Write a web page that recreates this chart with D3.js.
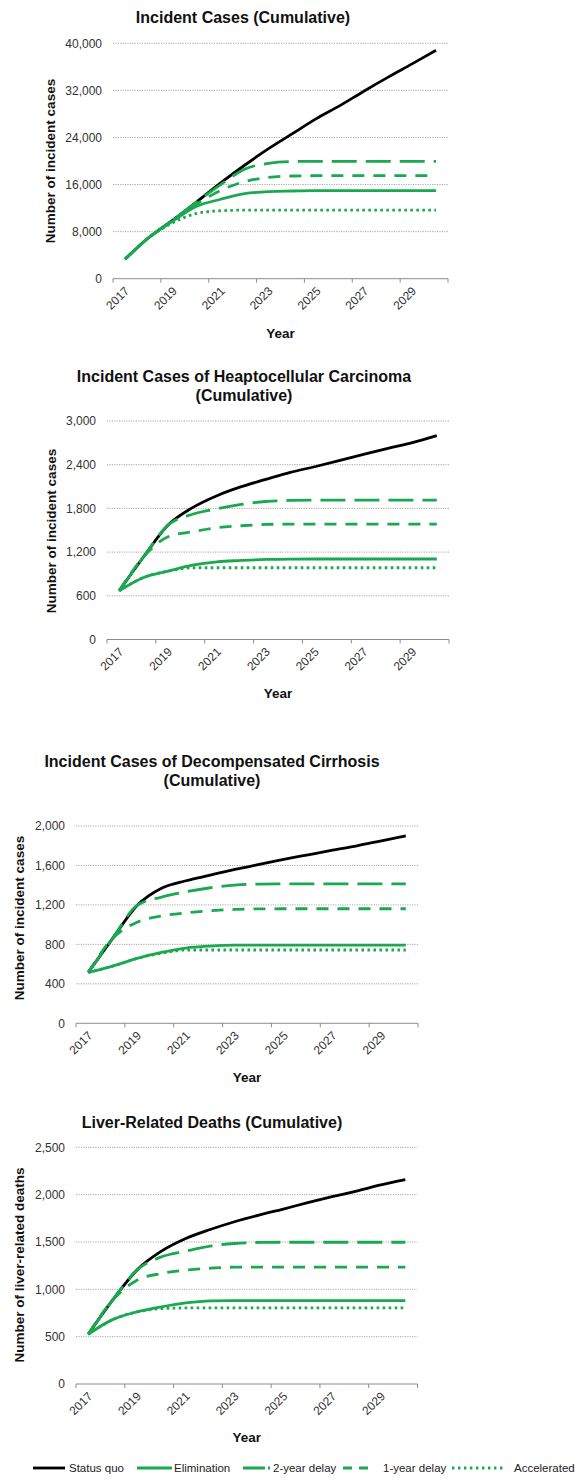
<!DOCTYPE html>
<html><head><meta charset="utf-8">
<script src="https://cdn.jsdelivr.net/npm/d3@7"></script>
<style>
body{margin:0;background:#fff}
svg{display:block}
text{font-family:"Liberation Sans",Arial,Helvetica,sans-serif}
</style>
</head><body>
<svg id="chart" width="578" height="1483"></svg>
<script>
// ---------------- DATA ----------------
const years = [2017,2018,2019,2020,2021,2022,2023,2024,2025,2026,2027,2028,2029,2030];
const tickYears = [2017,2019,2021,2023,2025,2027,2029];
const seriesNames = ["Status quo","Elimination","2-year delay","1-year delay","Accelerated"];

// Panel 1: Incident cases
const incidentTicks = [0,8000,16000,24000,32000,40000];
const incidentStatusQuo  = [3300,7000,9950,13060,16280,19280,22100,24650,27200,29450,31900,34250,36500,38800];
const incidentElimination= [3300,7000,9800,12300,13500,14450,14800,14900,14950,14950,14950,14950,14950,14950];
const incidentTwoYear    = [3300,7000,9950,13060,16000,18600,19600,19900,19950,19950,19950,19950,19950,19950];
const incidentOneYear    = [3300,7000,9950,12700,15000,16500,17200,17450,17500,17500,17500,17500,17500,17500];
const incidentAccelerated= [3300,7000,9500,11100,11550,11650,11650,11650,11650,11650,11650,11650,11650,11650];

// Panel 2: HCC
const hccTicks = [0,600,1200,1800,2400,3000];
const hccStatusQuo  = [670,1136,1571,1810,1974,2098,2198,2295,2372,2455,2542,2624,2702,2798];
const hccElimination= [670,852,939,1021,1067,1085,1099,1104,1105,1105,1105,1105,1105,1105];
const hccTwoYear    = [670,1136,1571,1720,1795,1855,1895,1910,1914,1914,1914,1914,1914,1914];
const hccOneYear    = [670,1136,1410,1480,1535,1562,1580,1585,1585,1585,1585,1585,1585,1585];
const hccAccelerated= [670,852,939,985,985,985,985,985,985,985,985,985,985,985];

// Panel 3: Decompensated cirrhosis
const dccTicks = [0,400,800,1200,1600,2000];
const dccStatusQuo  = [516,861,1195,1370,1445,1502,1560,1610,1661,1708,1755,1799,1850,1900];
const dccElimination= [516,580,658,719,763,783,793,793,793,793,793,793,793,793];
const dccTwoYear    = [516,861,1195,1280,1333,1374,1401,1411,1413,1414,1414,1414,1414,1414];
const dccOneYear    = [516,861,1025,1087,1120,1141,1154,1160,1161,1161,1161,1161,1161,1161];
const dccAccelerated= [516,580,658,710,743,743,743,743,743,743,743,743,743,743];

// Panel 4: Liver-related deaths
const deathTicks = [0,500,1000,1500,2000,2500];
const deathStatusQuo  = [525,885,1205,1403,1537,1632,1714,1784,1848,1915,1978,2038,2102,2158];
const deathElimination= [525,680,761,814,856,877,881,881,881,881,881,881,881,881];
const deathTwoYear    = [525,885,1205,1343,1403,1456,1484,1495,1497,1497,1497,1497,1497,1497];
const deathOneYear    = [525,885,1096,1167,1202,1223,1234,1235,1235,1235,1235,1235,1235,1235];
const deathAccelerated= [525,680,761,796,803,803,803,803,803,803,803,803,803,803];

const panelTitles = [
  ["Incident Cases (Cumulative)"],
  ["Incident Cases of Heaptocellular Carcinoma","(Cumulative)"],
  ["Incident Cases of Decompensated Cirrhosis","(Cumulative)"],
  ["Liver-Related Deaths (Cumulative)"]
];
const yTitles = ["Number of incident cases","Number of incident cases","Number of incident cases","Number of liver-related deaths"];
const xTitle = "Year";

// ---------------- STYLE / LAYOUT ----------------
const GREEN = "#1aa850";
const seriesStyle = [
  {color:"#000", dash:null},
  {color:GREEN, dash:null},
  {color:GREEN, dash:"25,9"},
  {color:GREEN, dash:"12,9"},
  {color:GREEN, dash:"2.6,3.4"}
];
const layout = [
  {x0:113, x1:448, yTop:43.3,  yBot:278.7, titleX:243, titleY:[22.6],        ytX:50, ytY:161,  yearY:338},
  {x0:107, x1:449, yTop:421,   yBot:639.5, titleX:244, titleY:[382.3,400.6], ytX:51, ytY:531,  yearY:698},
  {x0:76,  x1:418, yTop:826,   yBot:1023.3,titleX:212, titleY:[766.6,785.6], ytX:19, ytY:918,  yearY:1082},
  {x0:76,  x1:417.5,yTop:1147.3,yBot:1384, titleX:212, titleY:[1127.6],      ytX:19, ytY:1265, yearY:1442}
];

const panels = [
  {ticks:incidentTicks, series:[incidentStatusQuo,incidentElimination,incidentTwoYear,incidentOneYear,incidentAccelerated]},
  {ticks:hccTicks,      series:[hccStatusQuo,hccElimination,hccTwoYear,hccOneYear,hccAccelerated]},
  {ticks:dccTicks,      series:[dccStatusQuo,dccElimination,dccTwoYear,dccOneYear,dccAccelerated]},
  {ticks:deathTicks,    series:[deathStatusQuo,deathElimination,deathTwoYear,deathOneYear,deathAccelerated]}
];

const svg = d3.select("#chart");
const fmt = d3.format(",");

panels.forEach((p, i) => {
  const L = layout[i];
  const g = svg.append("g");
  const x = d3.scaleBand().domain(years).range([L.x0, L.x1]).padding(0);
  const y = d3.scaleLinear().domain([0, d3.max(p.ticks)]).range([L.yBot, L.yTop]);

  // gridlines
  g.append("g").selectAll("line").data(p.ticks.filter(t => t > 0)).join("line")
    .attr("x1", L.x0).attr("x2", L.x1)
    .attr("y1", d => y(d)).attr("y2", d => y(d))
    .attr("stroke", "#a8a8a8").attr("stroke-width", 1).attr("stroke-dasharray", "1.2,1.2");

  // y tick labels via axis
  const ya = g.append("g").attr("transform", `translate(${L.x0},0)`)
    .call(d3.axisLeft(y).tickValues(p.ticks).tickFormat(fmt).tickSize(0).tickPadding(11));
  ya.select(".domain").remove();
  ya.selectAll("text").attr("font-size", 12).attr("fill", "#333")
    .style("font-family", '"Liberation Sans",Arial,sans-serif');

  // x axis
  const xa = g.append("g").attr("transform", `translate(0,${L.yBot})`)
    .call(d3.axisBottom(x).tickValues(tickYears).tickSize(0).tickPadding(0));
  xa.select(".domain").attr("stroke", "#8c8c8c").attr("d", `M${L.x0},0H${L.x1}`);
  xa.selectAll("text")
    .attr("font-size", 12).attr("fill", "#333")
    .style("font-family", '"Liberation Sans",Arial,sans-serif')
    .attr("text-anchor", "end")
    .attr("dy", "0.35em")
    .attr("transform", "translate(2,10) rotate(-45)");
  // tick marks at category boundaries
  const boundaries = tickYears.map(yr => x(yr)).concat([x(years[years.length-1]) + x.bandwidth()]);
  g.append("g").selectAll("line").data(boundaries).join("line")
    .attr("x1", d => d).attr("x2", d => d)
    .attr("y1", L.yBot).attr("y2", L.yBot + 4)
    .attr("stroke", "#8c8c8c").attr("stroke-width", 1);

  // lines
  const line = d3.line()
    .x((d, k) => x(years[k]) + x.bandwidth()/2)
    .y(d => y(d))
    .curve(d3.curveMonotoneX);
  p.series.forEach((s, k) => {
    const st = seriesStyle[k];
    g.append("path").datum(s)
      .attr("d", line).attr("fill", "none")
      .attr("stroke", st.color).attr("stroke-width", 2.8)
      .attr("stroke-dasharray", st.dash)
      .attr("stroke-linejoin", "round");
  });

  // titles
  panelTitles[i].forEach((t, j) => {
    g.append("text").attr("x", L.titleX).attr("y", L.titleY[j])
      .attr("text-anchor", "middle").attr("font-size", 16).attr("font-weight", "bold")
      .attr("fill", "#111").text(t);
  });
  g.append("text")
    .attr("transform", `translate(${L.ytX},${L.ytY}) rotate(-90)`)
    .attr("text-anchor", "middle").attr("dy", "0.35em")
    .attr("font-size", 13.5).attr("font-weight", "bold").attr("fill", "#111")
    .text(yTitles[i]);
  g.append("text").attr("x", (L.x0 + L.x1)/2).attr("y", L.yearY)
    .attr("text-anchor", "middle").attr("font-size", 13.5).attr("font-weight", "bold")
    .attr("fill", "#111").text(xTitle);
});

// legend
const legendY = 1468;
const legendLayout = [
  {s:33,  e:65,  t:69,  dash:null},
  {s:137, e:172, t:174, dash:null},
  {s:243, e:270, t:273, dash:"22,3"},
  {s:343, e:375, t:383, dash:"9,7"},
  {s:452, e:505, t:514, dash:"2.4,3.6"}
];
const lg = svg.append("g");
seriesNames.forEach((name, k) => {
  const Lg = legendLayout[k];
  lg.append("line").attr("x1", Lg.s).attr("x2", Lg.e).attr("y1", legendY).attr("y2", legendY)
    .attr("stroke", seriesStyle[k].color).attr("stroke-width", 2.8)
    .attr("stroke-dasharray", Lg.dash);
  lg.append("text").attr("x", Lg.t).attr("y", legendY).attr("dy", "0.35em")
    .attr("font-size", 11.5).attr("fill", "#222").text(name);
});
</script>
</body></html>
